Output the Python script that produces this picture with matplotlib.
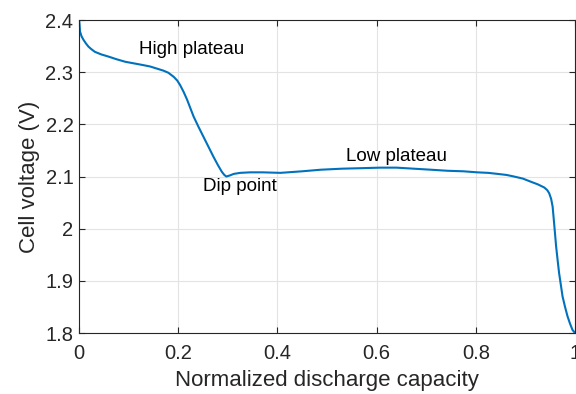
import numpy as np
import matplotlib.pyplot as plt

plt.rcParams['font.family'] = ['Liberation Sans', 'DejaVu Sans']

# discharge curve: normalized capacity vs cell voltage
capacity = [0.0, 0.001, 0.002, 0.005, 0.009, 0.014, 0.019, 0.025, 0.032, 0.045,
            0.059, 0.075, 0.093, 0.11, 0.127, 0.143, 0.16, 0.17, 0.18, 0.191,
            0.198, 0.204, 0.211, 0.218, 0.231, 0.241, 0.251, 0.261, 0.271,
            0.28, 0.288, 0.293, 0.297, 0.304, 0.312, 0.325, 0.345, 0.37,
            0.406, 0.45, 0.487, 0.53, 0.57, 0.608, 0.64, 0.675, 0.71, 0.743,
            0.775, 0.803, 0.825, 0.844, 0.862, 0.877, 0.895, 0.911, 0.925,
            0.938, 0.944, 0.948, 0.952, 0.955, 0.958, 0.962, 0.965, 0.968,
            0.975, 0.98, 0.985, 0.99, 0.995, 1.0]
voltage = [2.400, 2.392, 2.378, 2.369, 2.362, 2.355, 2.349, 2.344, 2.339, 2.334,
           2.330, 2.325, 2.320, 2.317, 2.314, 2.311, 2.306, 2.303, 2.299, 2.291,
           2.284, 2.275, 2.262, 2.247, 2.215, 2.195, 2.176, 2.157, 2.138,
           2.122, 2.109, 2.103, 2.100, 2.102, 2.105, 2.107, 2.108, 2.108,
           2.107, 2.110, 2.113, 2.115, 2.116, 2.117, 2.117, 2.115, 2.113, 2.111,
           2.110, 2.108, 2.107, 2.105, 2.103, 2.100, 2.096, 2.090, 2.085,
           2.079, 2.074, 2.068, 2.057, 2.042, 2.010, 1.966, 1.940, 1.915,
           1.870, 1.850, 1.832, 1.818, 1.806, 1.800]

xticks = [0, 0.2, 0.4, 0.6, 0.8, 1]
yticks = [1.8, 1.9, 2.0, 2.1, 2.2, 2.3, 2.4]
ytick_labels = ['1.8', '1.9', '2', '2.1', '2.2', '2.3', '2.4']

fig = plt.figure(figsize=(5.76, 3.94), dpi=100)
ax = fig.add_axes([0.1372, 0.1548, 0.861, 0.7944])

ax.plot(capacity, voltage, color='#0072BD', linewidth=1.5)

ax.set_xlim(0, 1)
ax.set_ylim(1.8, 2.4)
ax.set_xticks(xticks)
ax.set_xticklabels([f'{t:g}' for t in xticks])
ax.set_yticks(yticks)
ax.set_yticklabels(ytick_labels)
ax.grid(True, color='#e3e3e3', linewidth=0.8)
ax.set_axisbelow(True)

ax.tick_params(direction='in', length=4, width=0.8, colors='#262626',
               labelsize=14.5, top=True, right=True)
ax.tick_params(axis='x', pad=8)
ax.tick_params(axis='y', pad=4)
for s in ax.spines.values():
    s.set_color('#262626')
    s.set_linewidth(0.8)

ax.set_xlabel('Normalized discharge capacity', fontsize=16, color='#262626', labelpad=5)
ax.set_ylabel('Cell voltage (V)', fontsize=16, color='#262626', labelpad=4)

ax.text(0.121, 2.344, 'High plateau', fontsize=13.5, ha='left', va='center')
ax.text(0.249, 2.081, 'Dip point', fontsize=13.5, ha='left', va='center')
ax.text(0.539, 2.138, 'Low plateau', fontsize=13.5, ha='left', va='center')

fig.savefig('out.png', dpi=100)
